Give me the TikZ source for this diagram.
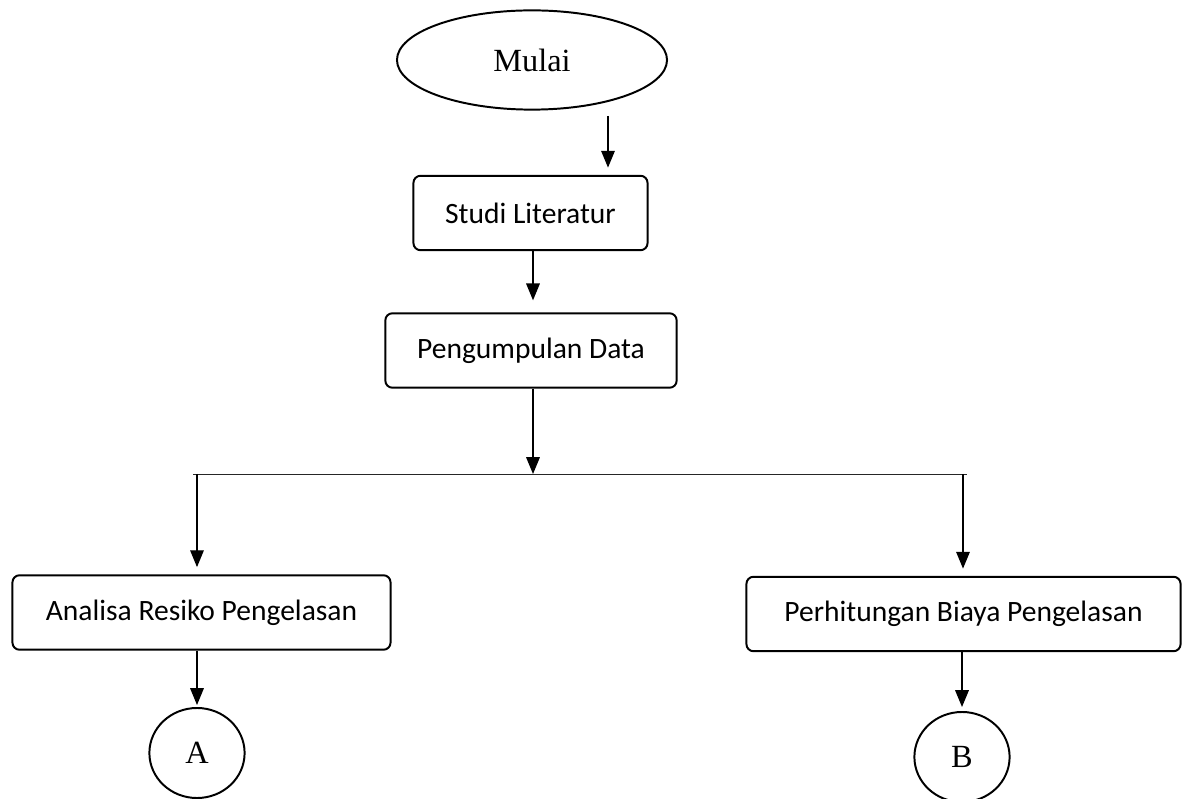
\documentclass[tikz,border=0pt]{standalone}
\usepackage{fontspec}
\setmainfont{Liberation Serif}
\newfontfamily\boxfont{Carlito}
\usetikzlibrary{arrows.meta,positioning,shapes.geometric}
\tikzset{
  blk/.style={rectangle, rounded corners=5pt, draw=black, line width=1.4pt,
              minimum height=1.86cm, align=center, font=\boxfont\fontsize{21}{25}\selectfont},
  term/.style={ellipse, draw=black, line width=1.4pt, minimum width=6.75cm,
               minimum height=2.48cm, font=\fontsize{23}{27}\selectfont},
  conn/.style={ellipse, draw=black, line width=1.4pt, minimum width=2.38cm,
               minimum height=2.25cm, font=\fontsize{23}{26}\selectfont},
  ar/.style={-{Triangle[length=4.2mm, width=3.4mm]}, line width=0.9pt},
  bus/.style={line width=0.7pt, draw=black!85},
}
\begin{document}
\begin{tikzpicture}[x=0.025cm, y=-0.025cm]
\useasboundingbox (0,0) rectangle (1190,799);

% nodes
\node[term] (mulai) at (532,60) {Mulai};
\node[blk, minimum width=5.85cm] (studi) at (530.5,213) {Studi Literatur};
\node[blk, minimum width=7.28cm] (data) at (531,350.5) {Pengumpulan Data};
\node[blk, minimum width=9.45cm] (analisa) at (201.5,612.5) {Analisa Resiko Pengelasan};
\node[blk, minimum width=10.85cm] (biaya) at (963.5,614) {Perhitungan Biaya Pengelasan};
\node[conn] (conA) at (197,753) {A};
\node[conn] (conB) at (962,757) {B};

% branch line
\coordinate (m) at (608,116);
\coordinate (split) at (533,474);
\coordinate (bl) at (197,474);
\coordinate (br) at (963,474);
\draw[bus] (193,474) -- (967,474);

% arrows
\draw[ar, shorten >=0.18cm] (m) -- (m |- studi.north);
\draw[ar, shorten >=0.3cm] (studi.south -| split) -- (split |- data.north);
\draw[ar] (data.south -| split) -- (split);
\draw[ar, shorten >=0.18cm] (bl) -- (bl |- analisa.north);
\draw[ar, shorten >=0.18cm] (br) -- (br |- biaya.north);
\draw[ar, shorten >=0.05cm] (analisa.south -| conA) -- (conA.north);
\draw[ar, shorten >=0.1cm] (biaya.south -| conB) -- (conB.north);

\end{tikzpicture}
\end{document}
